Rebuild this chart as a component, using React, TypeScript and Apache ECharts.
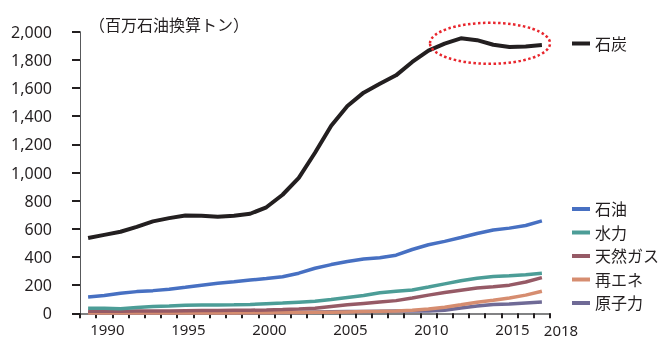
import React, { useEffect, useRef } from "react";
import * as echarts from "echarts";

const years = [
  "1989", "1990", "1991", "1992", "1993", "1994", "1995", "1996", "1997", "1998",
  "1999", "2000", "2001", "2002", "2003", "2004", "2005", "2006", "2007", "2008",
  "2009", "2010", "2011", "2012", "2013", "2014", "2015", "2016", "2017",
];
const coal = [535, 557, 579, 614, 653, 676, 695, 692, 685, 693, 707, 753, 842, 962, 1140, 1332, 1472, 1567, 1630, 1690, 1785, 1865, 1915, 1953, 1940, 1907, 1891, 1895, 1905];
const oil = [116, 126, 142, 154, 161, 171, 185, 200, 213, 224, 236, 247, 260, 285, 320, 346, 368, 386, 395, 413, 453, 487, 511, 538, 567, 591, 605, 624, 656];
const hydro = [36, 35, 33, 41, 48, 52, 57, 59, 59, 60, 62, 68, 73, 79, 85, 98, 112, 126, 146, 157, 166, 187, 209, 231, 249, 261, 267, 274, 284];
const gas = [15, 15, 15, 16, 16, 17, 18, 19, 20, 21, 22, 24, 27, 31, 36, 48, 60, 70, 80, 90, 108, 129, 147, 164, 180, 188, 200, 222, 253];
const renew = [2, 2, 2, 2, 2, 2, 3, 3, 3, 3, 4, 4, 5, 6, 7, 8, 10, 12, 14, 17, 22, 31, 43, 60, 78, 92, 109, 129, 157];
const nuclear = [0, 0, 0, 0, 0, 3, 3, 3, 3, 3, 4, 4, 5, 6, 10, 11, 12, 12, 14, 16, 16, 17, 21, 38, 52, 62, 66, 73, 80];

const names = ["石炭", "石油", "水力", "天然ガス", "再エネ", "原子力"];
const colors = ["#231f20", "#4770c2", "#4c9d97", "#965a66", "#d68d70", "#6f6a96"];
const unitLabel = "（百万石油換算トン）";
const extraYearLabel = "2018";

const FONT = '"Noto Sans", "Noto Sans CJK JP", sans-serif';
const TXT = "#231f20";

export default function App() {
  const ref = useRef<HTMLDivElement>(null);
  useEffect(() => {
    if (!ref.current) return;
    const chart = echarts.init(ref.current, null, { renderer: "svg" });
    const dataSets = [coal, oil, hydro, gas, renew, nuclear];
    const series = dataSets
      .map((d, i) => ({
        name: names[i],
        type: "line",
        data: d,
        symbol: "none",
        color: colors[i],
        lineStyle: { color: colors[i], width: i === 0 ? 4 : 3.5 },
      }))
      .reverse();
    const legendText = { color: TXT, fontSize: 16, fontFamily: FONT, lineHeight: 16 };
    chart.setOption({
      animation: false,
      textStyle: { fontFamily: FONT },
      title: {
        text: unitLabel,
        left: 89,
        top: 16.5,
        padding: 0,
        textStyle: { color: TXT, fontSize: 16, fontWeight: "normal", fontFamily: FONT },
      },
      grid: { left: 80, right: 112, top: 31.7, bottom: 26.7, containLabel: false, outerBoundsMode: "none" },
      legend: [
        {
          data: ["石炭"],
          left: 572,
          top: 35.5,
          padding: 0,
          icon: "rect",
          itemWidth: 18,
          itemHeight: 4,
          selectedMode: false,
          textStyle: legendText,
        },
        {
          data: ["石油", "水力", "天然ガス", "再エネ", "原子力"],
          orient: "vertical",
          left: 572,
          top: 201,
          padding: 0,
          itemGap: 7.5,
          icon: "rect",
          itemWidth: 18,
          itemHeight: 4,
          selectedMode: false,
          textStyle: legendText,
        },
      ],
      xAxis: {
        type: "category",
        data: years,
        boundaryGap: true,
        axisLine: { lineStyle: { color: "#58595b", width: 1.5 } },
        axisTick: { show: true, interval: 0, length: 5, lineStyle: { color: TXT, width: 2 } },
        axisLabel: {
          interval: (idx: number, val: string) => Number(val) % 5 === 0,
          color: TXT,
          fontSize: 15,
          lineHeight: 14,
          fontFamily: FONT,
          margin: 9,
          padding: [0, 0, 0, 6],
        },
        splitLine: { show: false },
      },
      yAxis: {
        type: "value",
        min: 0,
        max: 2000,
        interval: 200,
        axisLine: { show: true, lineStyle: { color: "#58595b", width: 1 } },
        axisTick: { show: true, length: 8, lineStyle: { color: TXT, width: 2 } },
        axisLabel: {
          color: TXT,
          fontSize: 16,
          fontFamily: FONT,
          margin: 28,
          formatter: (v: number) => v.toLocaleString("en-US"),
        },
        splitLine: { show: false },
      },
      graphic: [
        {
          type: "text",
          x: 561,
          y: 329.5,
          style: {
            text: extraYearLabel,
            fill: TXT,
            fontSize: 15,
            lineHeight: 14,
            fontFamily: FONT,
            align: "center",
            verticalAlign: "middle",
          },
        },
        {
          type: "ellipse",
          shape: { cx: 490, cy: 43.3, rx: 60, ry: 20.5 },
          style: { fill: "none", stroke: "#e8262d", lineWidth: 2.5, lineDash: [2.5, 2.5] },
          z: 10,
        },
      ],
      series,
    });
    return () => chart.dispose();
  }, []);
  return <div ref={ref} style={{ position: "fixed", left: 0, top: 0, width: 662, height: 340 }} />;
}
